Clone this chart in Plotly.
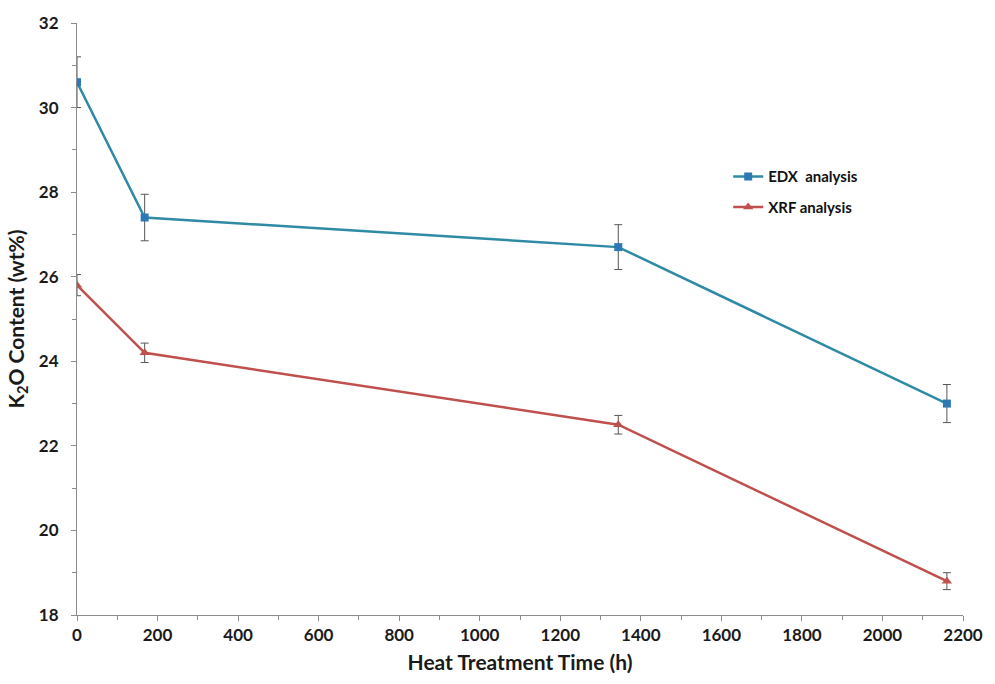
import plotly.graph_objects as go

# Heat treatment time (h)
time_h = [0, 168, 1344, 2160]

# K2O content (wt%) and standard deviations
edx_k2o = [30.6, 27.4, 26.7, 23.0]
edx_err = [0.6, 0.55, 0.53, 0.45]
xrf_k2o = [25.8, 24.2, 22.5, 18.8]
xrf_err = [0.25, 0.23, 0.22, 0.2]

FONT = "Lato"
AXIS_GRAY = "#8c8c8c"

fig = go.Figure()

fig.add_trace(go.Scatter(
    x=time_h, y=edx_k2o, name="EDX\u00a0 analysis", legendgroup="edx",
    mode="lines+markers",
    line=dict(color="#2f8aa6", width=2.5),
    marker=dict(symbol="square", size=8, color="#2e78b4"),
    error_y=dict(type="data", array=edx_err, visible=True,
                 color="#555555", thickness=1, width=4),
))

fig.add_trace(go.Scatter(
    x=time_h, y=xrf_k2o, name="XRF analysis", legendgroup="xrf",
    mode="lines+markers",
    line=dict(color="#c0504d", width=2.5),
    marker=dict(symbol="triangle-up", size=9, color="#c0504d"),
    error_y=dict(type="data", array=xrf_err, visible=True,
                 color="#555555", thickness=1, width=4),
))

fig.update_layout(
    width=995, height=684,
    margin=dict(l=77, r=23, t=20, b=69),
    paper_bgcolor="white", plot_bgcolor="white",
    font=dict(family=FONT, color="#1a1a1a"),
    showlegend=True,
    legend=dict(
        x=0.735, y=0.768, xanchor="left", yanchor="top",
        font=dict(family=FONT, size=15, color="#111111", weight="bold"),
        bgcolor="rgba(0,0,0,0)", tracegroupgap=8,
        itemwidth=30,
    ),
)

fig.update_xaxes(
    range=[0, 2200], tickvals=list(range(0, 2201, 200)),
    showgrid=False, zeroline=False,
    showline=True, linecolor=AXIS_GRAY, linewidth=1,
    ticks="outside", ticklen=5, tickcolor=AXIS_GRAY,
    minor=dict(dtick=100, ticks="outside", ticklen=4, tickcolor=AXIS_GRAY),
    tickfont=dict(family=FONT, size=17, color="#1a1a1a", weight="bold"),
    title=dict(text="<b>Heat Treatment Time (h)</b>",
               font=dict(family=FONT, size=21, color="#1a1a1a"), standoff=10),
)

fig.update_yaxes(
    range=[18, 32], tickvals=list(range(18, 33, 2)),
    showgrid=False, zeroline=False,
    showline=True, linecolor=AXIS_GRAY, linewidth=1,
    ticks="outside", ticklen=5, tickcolor=AXIS_GRAY, ticklabelstandoff=9,
    minor=dict(dtick=1, ticks="outside", ticklen=4, tickcolor=AXIS_GRAY),
    tickfont=dict(family=FONT, size=17, color="#1a1a1a", weight="bold"),
    title=dict(text="<b>K<sub>2</sub>O Content (wt%)</b>",
               font=dict(family=FONT, size=21, color="#1a1a1a"), standoff=8),
)

fig.write_html("out.html")
